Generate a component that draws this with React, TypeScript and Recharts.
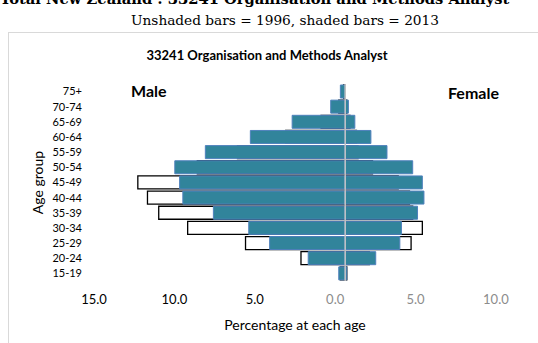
import { Bar, BarChart, ReferenceLine, XAxis, YAxis } from "recharts";

// age groups, youngest first (axis is reversed so 75+ sits on top)
const ageGroups = ["15-19", "20-24", "25-29", "30-34", "35-39", "40-44", "45-49", "50-54", "55-59", "60-64", "65-69", "70-74", "75+"];

// percentage of the occupation in each age group
const male1996 = [0.3, 2.75, 6.2, 9.8, 11.6, 12.3, 12.9, 9.2, 6.7, 3.7, 1.5, 0.4, 0.1];
const female1996 = [0.1, 1.5, 4.1, 4.8, 4.2, 4.0, 3.3, 1.7, 0.8, 0.7, 0.3, 0.1, 0.0];
const male2013 = [0.4, 2.3, 4.7, 6.0, 8.2, 10.1, 10.3, 10.6, 8.7, 5.9, 3.3, 0.9, 0.3];
const female2013 = [0.1, 1.9, 3.4, 3.5, 4.5, 4.9, 4.8, 4.2, 2.6, 1.6, 0.6, 0.2, 0.0];

const xTicks = [-15, -10, -5, 0, 5, 10];

// males plotted to the left, so negate them
const rows = ageGroups.map((age, i) => ({
  age,
  m96: -male1996[i],
  f96: female1996[i],
  m13: -male2013[i],
  f13: female2013[i],
}));

const SANS = "Lato, 'Open Sans', sans-serif";
const TEAL = "#31849B";

function XTick(props: any) {
  const { x, y, payload } = props;
  const v = payload.value as number;
  return (
    <text
      x={x - 10}
      y={y}
      dy="0.71em"
      textAnchor="middle"
      fontFamily={SANS}
      fontSize={13}
      fill={v < 0 ? "#000000" : "#8c8c8c"}
    >
      {Math.abs(v).toFixed(1)}
    </text>
  );
}

export default function App() {
  return (
    <div style={{ position: "absolute", left: 0, top: 0, width: 538, height: 343, background: "#fff", overflow: "hidden" }}>
      <div
        style={{
          position: "absolute",
          left: 0,
          top: -10,
          whiteSpace: "nowrap",
          fontFamily: "'DejaVu Serif', serif",
          fontWeight: "bold",
          fontSize: 14.7,
          lineHeight: "17px",
          color: "#000",
        }}
      >
        Total New Zealand : 33241 Organisation and Methods Analyst
      </div>
      <div
        style={{
          position: "absolute",
          left: 285,
          top: 12,
          transform: "translateX(-50%)",
          whiteSpace: "nowrap",
          fontFamily: "'DejaVu Serif', serif",
          fontSize: 13.7,
          lineHeight: "16px",
          color: "#000",
        }}
      >
        Unshaded bars = 1996, shaded bars = 2013
      </div>
      <div
        style={{
          position: "absolute",
          left: 8,
          top: 32,
          width: 560,
          height: 340,
          borderLeft: "1px solid #d9d9d9",
          borderTop: "1px solid #d9d9d9",
        }}
      />
      <div
        style={{
          position: "absolute",
          left: 267,
          top: 47,
          transform: "translateX(-50%)",
          whiteSpace: "nowrap",
          fontFamily: SANS,
          fontWeight: "bold",
          fontSize: 13,
          color: "#000",
        }}
      >
        33241 Organisation and Methods Analyst
      </div>
      <div style={{ position: "absolute", left: 131, top: 81, fontFamily: SANS, fontWeight: "bold", fontSize: 16, color: "#000" }}>
        Male
      </div>
      <div style={{ position: "absolute", left: 448, top: 83, fontFamily: SANS, fontWeight: "bold", fontSize: 16, color: "#000" }}>
        Female
      </div>
      <div style={{ position: "absolute", left: 0, top: 0 }}>
        <BarChart
          width={538}
          height={343}
          data={rows}
          layout="vertical"
          stackOffset="sign"
          barCategoryGap={1}
          margin={{ top: 84, right: 16, left: 0, bottom: 0 }}
        >
          <XAxis
            type="number"
            domain={[-16, 11]}
            ticks={xTicks}
            axisLine={false}
            tickLine={false}
            tickSize={0}
            tickMargin={14}
            height={62}
            tick={<XTick />}
            label={{
              value: "Percentage at each age",
              position: "insideBottom",
              offset: 13,
              dx: -10,
              fill: "#000",
              fontFamily: SANS,
              fontSize: 14,
            }}
          />
          <YAxis
            yAxisId="y96"
            type="category"
            dataKey="age"
            reversed
            width={88}
            axisLine={false}
            tickLine={false}
            tickSize={0}
            tickMargin={6}
            interval={0}
            tick={{ fontFamily: SANS, fontSize: 11, fill: "#000" }}
            label={{
              value: "Age group",
              angle: -90,
              position: "center",
              dx: -6,
              fill: "#000",
              fontFamily: SANS,
              fontSize: 14,
            }}
          />
          <YAxis yAxisId="y13" type="category" dataKey="age" reversed hide width={0} />
          <Bar yAxisId="y96" dataKey="m96" stackId="s96" fill="#ffffff" stroke="#000000" strokeWidth={1.3} isAnimationActive={false} />
          <Bar yAxisId="y96" dataKey="f96" stackId="s96" fill="#ffffff" stroke="#000000" strokeWidth={1.3} isAnimationActive={false} />
          <Bar yAxisId="y13" dataKey="m13" stackId="s13" fill={TEAL} stroke="#4F81BD" strokeWidth={1} isAnimationActive={false} />
          <Bar yAxisId="y13" dataKey="f13" stackId="s13" fill={TEAL} stroke="#4F81BD" strokeWidth={1} isAnimationActive={false} />
          <ReferenceLine yAxisId="y96" x={0} stroke="#c6c6c6" strokeWidth={1.5} />
        </BarChart>
      </div>
    </div>
  );
}
